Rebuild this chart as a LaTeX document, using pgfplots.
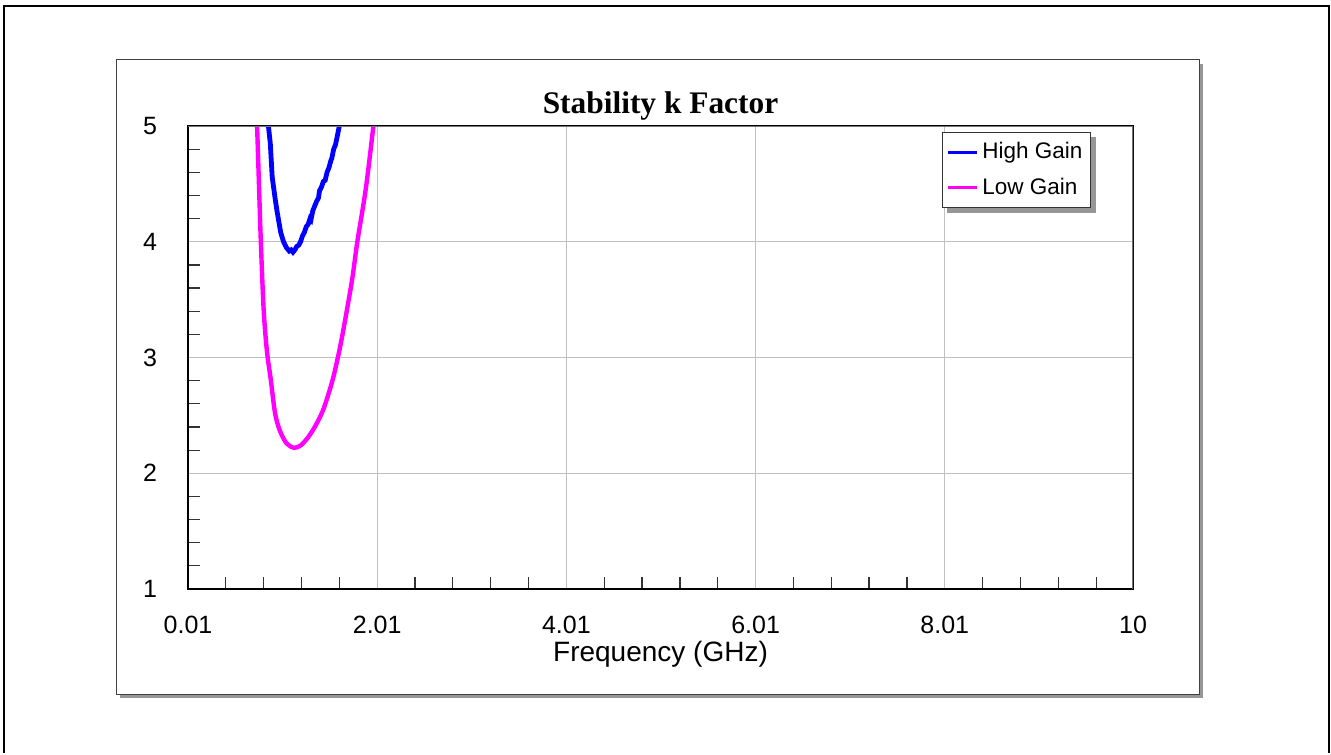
\documentclass[border=0pt]{standalone}
\usepackage{pgfplots}
\pgfplotsset{compat=1.18}
\usepackage{fontspec}
\setmainfont{Liberation Sans}
\newfontfamily\titlefont{Liberation Serif}

\definecolor{hgblue}{RGB}{0,0,255}
\definecolor{lgmag}{RGB}{255,0,255}
\definecolor{gridgray}{RGB}{192,192,192}
\definecolor{shadowgray}{RGB}{150,150,150}

\pgfdeclarelayer{back}
\pgfdeclarelayer{shade}
\pgfsetlayers{back,shade,main}

\begin{document}
\begin{tikzpicture}
% page size and frames (1pt = 2px of the reference)
\begin{pgfonlayer}{back}
\path (-94pt,-82pt) rectangle (571.5pt,294.5pt);
\draw[black,line width=1pt] (-92pt,-82pt) -- (-92pt,291.5pt) -- (570.25pt,291.5pt) -- (570.25pt,-82pt);
\fill[shadowgray] (-34pt,-54.5pt) rectangle (507.5pt,262.5pt);
\draw[fill=white,draw=black!75,line width=0.5pt] (-36pt,-52.5pt) rectangle (505.5pt,264.5pt);
\end{pgfonlayer}

\begin{axis}[
  at={(0pt,0pt)}, anchor=south west,
  width=472.5pt, height=231.5pt, scale only axis,
  xmin=0.01, xmax=10, ymin=1, ymax=5,
  xtick={0.01,2.01,4.01,6.01,8.01,10},
  xticklabels={0.01,2.01,4.01,6.01,8.01,10},
  ytick={1,2,3,4,5},
  minor xtick={0.41,0.81,1.21,1.61,2.41,2.81,3.21,3.61,4.41,4.81,5.21,5.61,6.41,6.81,7.21,7.61,8.41,8.81,9.21,9.61},
  minor ytick={1.2,1.4,1.6,1.8,2.2,2.4,2.6,2.8,3.2,3.4,3.6,3.8,4.2,4.4,4.6,4.8},
  major tick length=0pt,
  minor tick length=6pt,
  minor tick style={black!80,line width=0.6pt},
  xtick pos=bottom, ytick pos=left,
  tick align=inside,
  xmajorgrids, ymajorgrids,
  major grid style={gridgray,line width=0.5pt},
  axis line style={black,line width=0.6pt},
  tick label style={font=\fontsize{12.5}{14}\selectfont},
  /pgf/number format/assume math mode=true,
  xticklabel style={anchor=center,yshift=-18pt},
  yticklabel style={anchor=center,xshift=-19pt},
  scaled ticks=false,
  title={\titlefont\bfseries Stability k Factor},
  title style={at={(axis description cs:0.5,1)},anchor=center,yshift=4pt,font=\fontsize{15.7}{18}\selectfont},
  xlabel={Frequency (GHz)},
  xlabel style={at={(axis description cs:0.5,0)},anchor=center,yshift=-32.5pt,font=\fontsize{14}{16}\selectfont},
  legend style={at={(axis description cs:1,1)},anchor=north east,xshift=-21pt,yshift=-3pt,
    font=\fontsize{11.25}{13}\selectfont,draw=black!80,line width=0.5pt,fill=white,
    inner xsep=2pt,inner ysep=3pt,row sep=4pt,name=leg},
  legend cell align=left,
  legend image code/.code={\draw[#1,line width=1.6pt] (0pt,0pt) -- (14.5pt,0pt);},
]
\addplot[hgblue,line width=2.4pt] coordinates {
 (0.85,5.3) (0.86,5.0) (0.88,4.85) (0.90,4.56) (0.93,4.38) (0.95,4.27)
 (0.99,4.08) (1.02,4.00) (1.05,3.95) (1.08,3.92) (1.10,3.93) (1.12,3.91)
 (1.14,3.93) (1.16,3.96) (1.18,3.97) (1.20,4.00) (1.22,4.05) (1.24,4.08)
 (1.26,4.13) (1.28,4.15) (1.30,4.20) (1.31,4.19) (1.33,4.27) (1.35,4.31)
 (1.37,4.35) (1.39,4.38) (1.40,4.44) (1.42,4.47) (1.44,4.52) (1.46,4.53)
 (1.48,4.60) (1.50,4.64) (1.52,4.70) (1.53,4.72) (1.55,4.80) (1.57,4.84)
 (1.59,4.92) (1.61,5.0) (1.62,5.1)
};
\addlegendentry{High Gain}
\addplot[lgmag,line width=2.2pt,smooth,tension=0.5] coordinates {
 (0.72,5.3) (0.74,5.0) (0.76,4.5) (0.78,4.0) (0.81,3.41) (0.845,3.05)
 (0.885,2.81) (0.93,2.52) (0.98,2.37) (1.05,2.26) (1.13,2.22) (1.20,2.24)
 (1.27,2.30) (1.35,2.40) (1.44,2.55) (1.54,2.81) (1.62,3.10) (1.69,3.41)
 (1.75,3.70) (1.80,4.0) (1.89,4.46) (1.97,5.0) (2.0,5.2)
};
\addlegendentry{Low Gain}
\draw[black!55,line width=0.8pt] (rel axis cs:0,1) -- (rel axis cs:1,1) -- (rel axis cs:1,0);
\end{axis}
\begin{pgfonlayer}{shade}
\fill[shadowgray] ([xshift=2.5pt,yshift=-2.5pt]leg.south west) rectangle ([xshift=2.5pt,yshift=-2.5pt]leg.north east);
\end{pgfonlayer}
\end{tikzpicture}
\end{document}
